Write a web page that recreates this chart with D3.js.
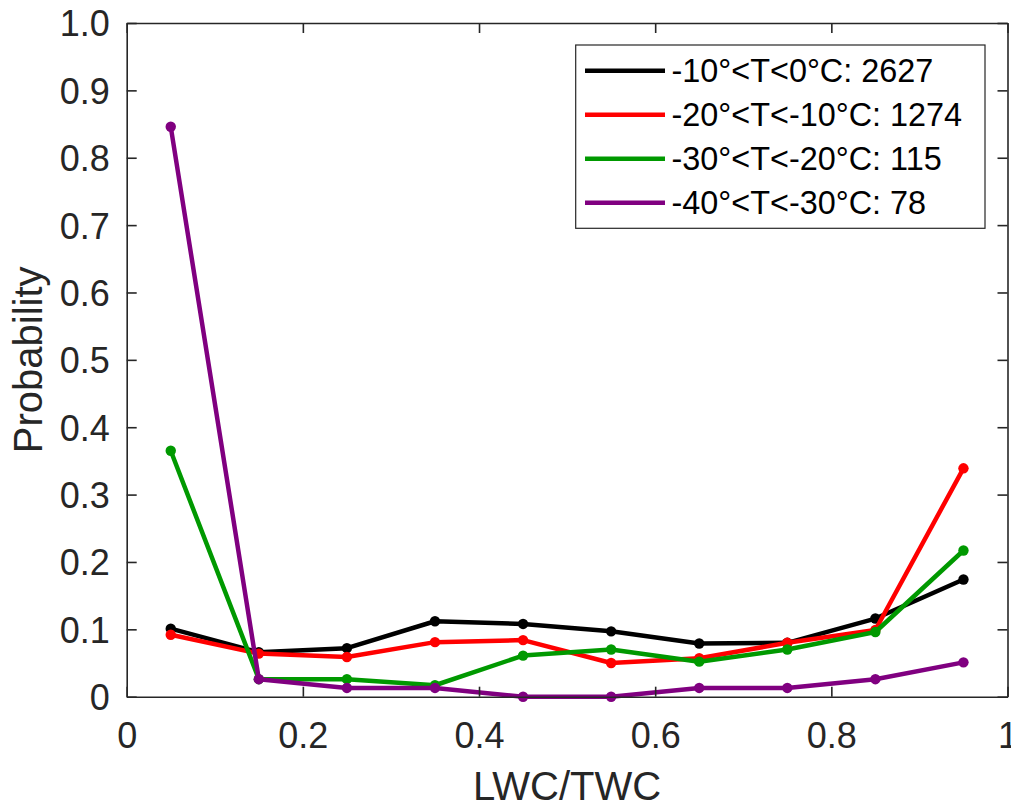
<!DOCTYPE html>
<html>
<head>
<meta charset="utf-8">
<script src="https://cdn.jsdelivr.net/npm/d3@7"></script>
<style>
  html, body { margin: 0; padding: 0; background: #fff; }
  svg { display: block; font-family: "Liberation Sans", Arial, Helvetica, sans-serif; }
</style>
</head>
<body>
<svg id="chart" width="1011" height="804"></svg>
<script>
// Bin centres of LWC/TWC
const binCenters = [0.05, 0.15, 0.25, 0.35, 0.45, 0.55, 0.65, 0.75, 0.85, 0.95];

// Probability per bin for each temperature range
const probT0to10 = [0.101, 0.066, 0.072, 0.112, 0.108, 0.097, 0.079, 0.080, 0.116, 0.174];
const probT10to20 = [0.092, 0.064, 0.059, 0.081, 0.084, 0.050, 0.057, 0.080, 0.099, 0.339];
const probT20to30 = [0.365, 0.026, 0.026, 0.017, 0.061, 0.070, 0.052, 0.070, 0.096, 0.217];
const probT30to40 = [0.846, 0.026, 0.013, 0.013, 0.000, 0.000, 0.013, 0.013, 0.026, 0.051];

const seriesLabels = [
  "-10°<T<0°C: 2627",
  "-20°<T<-10°C: 1274",
  "-30°<T<-20°C: 115",
  "-40°<T<-30°C: 78"
];
const seriesColors = ["#000000", "#ff0000", "#009900", "#800080"];
const seriesValues = [probT0to10, probT10to20, probT20to30, probT30to40];

const xTicks = [0, 0.2, 0.4, 0.6, 0.8, 1];
const yTicks = [0, 0.1, 0.2, 0.3, 0.4, 0.5, 0.6, 0.7, 0.8, 0.9, 1.0];

const svg = d3.select("#chart");
const plotLeft = 126.7, plotRight = 1007.5, plotTop = 23, plotBottom = 696.7;
const axisColor = "#262626";

const x = d3.scaleLinear().domain([0, 1]).range([plotLeft, plotRight]);
const y = d3.scaleLinear().domain([0, 1]).range([plotBottom, plotTop]);

// Data lines and markers
const line = d3.line().x((d, i) => x(binCenters[i])).y(d => y(d));
const plot = svg.append("g");
seriesValues.forEach((vals, s) => {
  plot.append("path")
    .attr("d", line(vals))
    .attr("fill", "none")
    .attr("stroke", seriesColors[s])
    .attr("stroke-width", 4.5)
    .attr("stroke-linejoin", "round");
  plot.selectAll(null).data(vals).enter().append("circle")
    .attr("cx", (d, i) => x(binCenters[i]))
    .attr("cy", d => y(d))
    .attr("r", 5.2)
    .attr("fill", seriesColors[s]);
});

// Axes box with inward ticks
const tickLen = 10;
const gx = svg.append("g").attr("transform", `translate(0,${plotBottom})`)
  .call(d3.axisBottom(x).tickValues(xTicks).tickSizeInner(-tickLen).tickSizeOuter(0)
    .tickPadding(26).tickFormat(d => d === 0 || d === 1 ? d3.format("d")(d) : d3.format(".1f")(d)));
const gxTop = svg.append("g").attr("transform", `translate(0,${plotTop})`)
  .call(d3.axisTop(x).tickValues(xTicks).tickSizeInner(-tickLen).tickSizeOuter(0).tickFormat(""));
const gy = svg.append("g").attr("transform", `translate(${plotLeft},0)`)
  .call(d3.axisLeft(y).tickValues(yTicks).tickSizeInner(-tickLen).tickSizeOuter(0)
    .tickPadding(17).tickFormat(d => d === 0 ? "0" : d3.format(".1f")(d)));
const gyRight = svg.append("g").attr("transform", `translate(${plotRight},0)`)
  .call(d3.axisRight(y).tickValues(yTicks).tickSizeInner(-tickLen).tickSizeOuter(0).tickFormat(""));

[gx, gxTop, gy, gyRight].forEach(g => {
  g.select(".domain").attr("stroke", axisColor).attr("stroke-width", 1.6);
  g.selectAll(".tick line").attr("stroke", axisColor).attr("stroke-width", 1.6);
  g.selectAll(".tick text").attr("fill", axisColor)
    .attr("font-size", 36).attr("font-family", "'Liberation Sans', Arial, sans-serif");
});
gy.selectAll(".tick text").attr("dy", "0.36em");

// Axis titles
svg.append("text")
  .attr("x", (plotLeft + plotRight) / 2).attr("y", 800)
  .attr("text-anchor", "middle").attr("font-size", 40).attr("fill", axisColor)
  .text("LWC/TWC");
svg.append("text")
  .attr("transform", `translate(42,${(plotTop + plotBottom) / 2}) rotate(-90)`)
  .attr("text-anchor", "middle").attr("font-size", 40).attr("fill", axisColor)
  .text("Probability");

// Legend
const lg = svg.append("g");
lg.append("rect")
  .attr("x", 575.7).attr("y", 45).attr("width", 409.3).attr("height", 183.3)
  .attr("fill", "#fff").attr("stroke", axisColor).attr("stroke-width", 1.2);
seriesLabels.forEach((lab, i) => {
  const cy = 70.7 + i * 44;
  lg.append("line")
    .attr("x1", 585).attr("x2", 665).attr("y1", cy).attr("y2", cy)
    .attr("stroke", seriesColors[i]).attr("stroke-width", 4.5);
  lg.append("text")
    .attr("x", 671.5).attr("y", cy).attr("dy", "0.36em")
    .attr("font-size", 32.4).attr("fill", "#000")
    .text(lab);
});
</script>
</body>
</html>
